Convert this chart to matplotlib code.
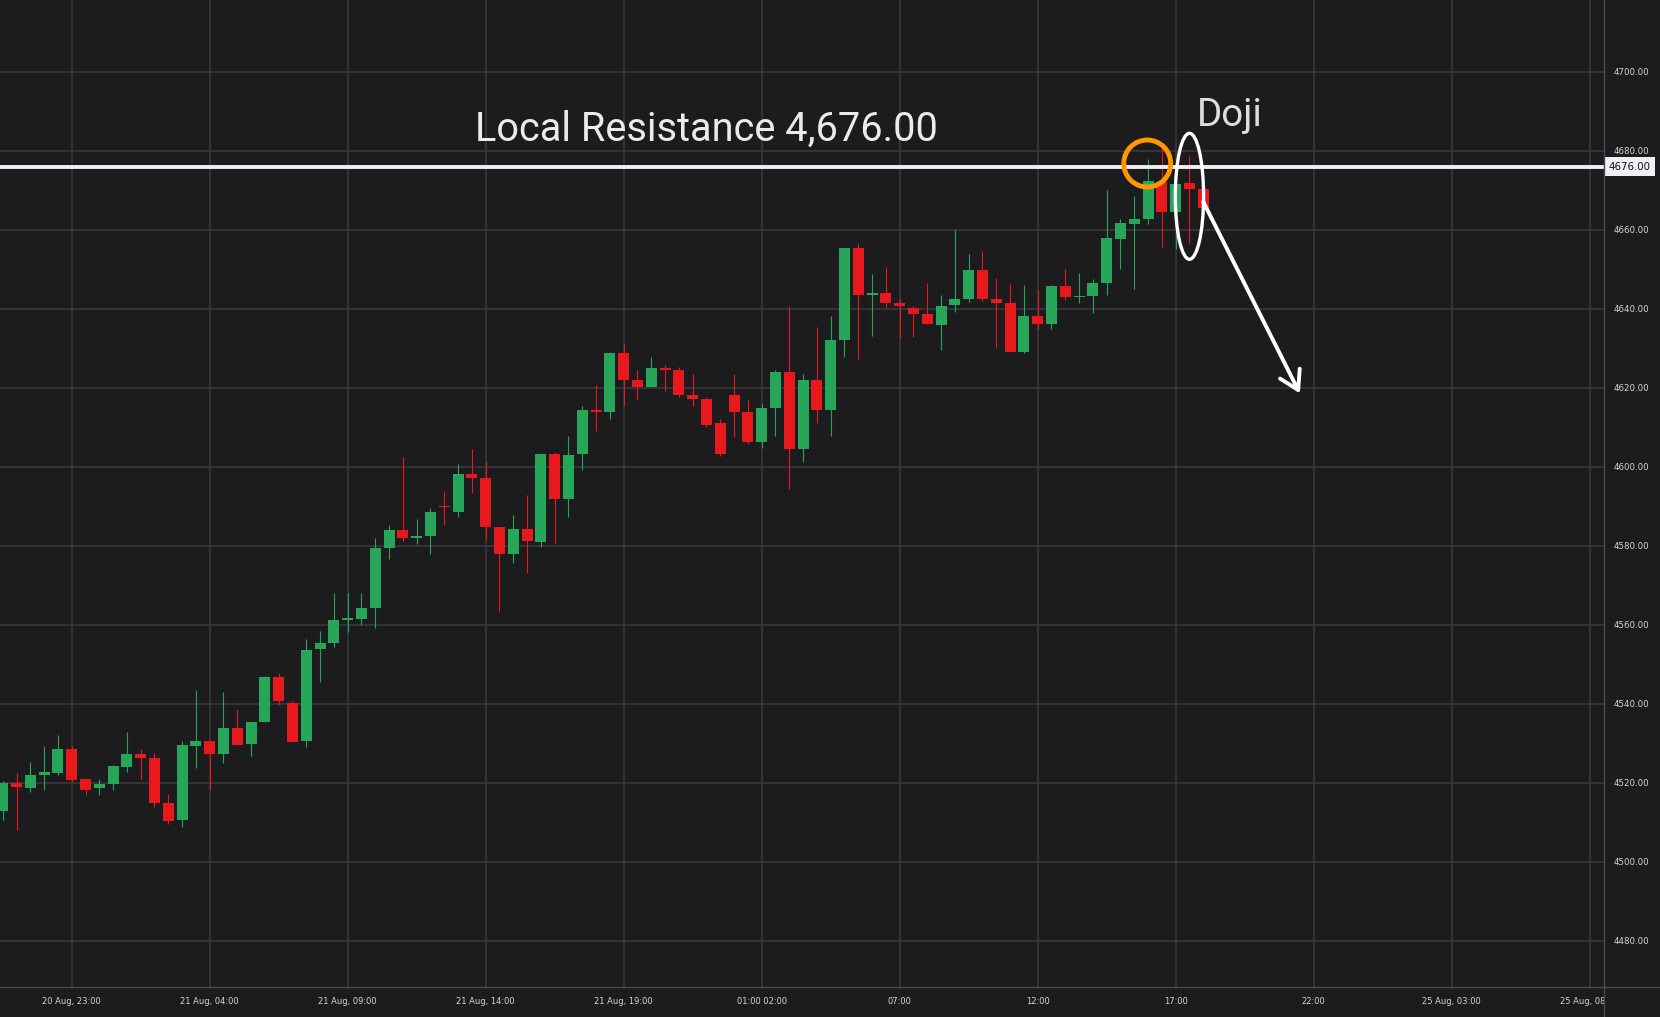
import matplotlib
matplotlib.use("Agg")
import matplotlib.pyplot as plt
from matplotlib.patches import Ellipse, Rectangle
from matplotlib.lines import Line2D
from matplotlib.transforms import blended_transform_factory

# 30 min candles, index 0 = 20 Aug 23:00
candle_idx = list(range(-5, 83))
opens = [4512.9, 4519.9, 4518.7, 4521.9, 4522.4, 4528.5, 4520.9, 4518.7, 4519.7, 4524.0,
         4527.2, 4526.2, 4514.9, 4510.6, 4529.2, 4530.5, 4527.2, 4533.8, 4529.7, 4535.3,
         4546.9, 4540.3, 4530.5, 4553.9, 4555.4, 4561.2, 4561.4, 4564.2, 4579.4, 4583.9,
         4582.1, 4582.4, 4590.2, 4588.5, 4598.3, 4597.1, 4584.7, 4577.9, 4584.2, 4580.9,
         4603.2, 4591.8, 4603.2, 4614.5, 4614.0, 4628.9, 4621.9, 4620.3, 4625.1, 4624.4,
         4618.1, 4617.1, 4611.0, 4618.3, 4614.0, 4606.2, 4615.0, 4624.1, 4604.6, 4621.9,
         4614.5, 4632.0, 4655.3, 4643.6, 4643.9, 4641.6, 4640.3, 4638.8, 4635.8, 4641.1,
         4642.6, 4649.9, 4642.6, 4641.6, 4629.2, 4638.1, 4636.1, 4645.8, 4643.0, 4643.2,
         4646.5, 4657.7, 4661.5, 4662.8, 4672.1, 4664.5, 4671.9, 4670.4]
highs = [4520.4, 4522.4, 4525.2, 4529.2, 4532.0, 4529.2, 4521.2, 4520.9, 4524.5, 4532.8,
         4528.5, 4527.5, 4517.1, 4530.5, 4543.6, 4530.5, 4542.9, 4538.6, 4535.5, 4547.1,
         4547.9, 4540.6, 4556.4, 4558.4, 4568.0, 4568.0, 4568.0, 4581.9, 4585.2, 4602.4,
         4586.9, 4589.5, 4594.0, 4600.8, 4604.6, 4601.6, 4584.7, 4587.7, 4592.8, 4603.4,
         4603.7, 4607.7, 4615.3, 4620.6, 4629.2, 4631.0, 4624.6, 4627.7, 4625.9, 4625.4,
         4623.6, 4617.8, 4612.0, 4623.4, 4617.3, 4616.0, 4624.6, 4640.8, 4623.4, 4635.3,
         4638.1, 4655.5, 4656.8, 4648.7, 4650.5, 4642.6, 4640.8, 4646.6, 4643.4, 4660.0,
         4653.9, 4654.7, 4647.9, 4646.4, 4646.1, 4644.9, 4646.0, 4650.1, 4649.1, 4647.5,
         4670.1, 4662.8, 4668.6, 4678.0, 4680.8, 4671.6, 4678.7, 4670.4]
lows = [4510.5, 4508.1, 4517.6, 4518.2, 4521.9, 4520.2, 4516.9, 4516.9, 4518.2, 4522.7,
        4520.9, 4513.9, 4509.6, 4508.8, 4523.7, 4518.2, 4525.0, 4529.5, 4526.7, 4535.3,
        4539.8, 4530.3, 4529.0, 4545.5, 4554.4, 4558.1, 4559.9, 4559.2, 4576.6, 4581.1,
        4580.4, 4577.9, 4585.4, 4587.2, 4593.3, 4581.7, 4563.6, 4575.6, 4573.1, 4579.7,
        4580.4, 4587.2, 4599.1, 4609.2, 4612.0, 4615.3, 4616.8, 4620.1, 4619.3, 4617.8,
        4615.5, 4610.2, 4602.7, 4607.5, 4605.9, 4604.7, 4607.7, 4594.3, 4601.1, 4611.0,
        4607.9, 4627.7, 4627.4, 4633.2, 4640.1, 4632.5, 4632.8, 4636.1, 4629.5, 4639.3,
        4641.8, 4642.1, 4630.0, 4629.2, 4628.7, 4634.8, 4635.0, 4642.2, 4641.5, 4638.9,
        4643.5, 4650.1, 4645.0, 4661.5, 4655.7, 4655.2, 4656.7, 4665.6]
closes = [4519.9, 4519.0, 4521.9, 4522.7, 4528.5, 4520.7, 4518.2, 4519.7, 4524.2, 4527.2,
          4526.2, 4514.9, 4510.3, 4529.5, 4530.5, 4527.2, 4533.8, 4529.5, 4535.3, 4546.9,
          4540.6, 4530.3, 4553.5, 4555.4, 4561.2, 4561.7, 4564.2, 4579.4, 4583.9, 4582.1,
          4582.4, 4588.5, 4589.8, 4598.3, 4597.1, 4584.8, 4577.9, 4584.2, 4581.2, 4603.2,
          4591.8, 4602.9, 4614.5, 4614.0, 4628.9, 4621.9, 4620.3, 4625.1, 4624.4, 4618.1,
          4617.1, 4610.7, 4603.2, 4614.0, 4606.2, 4615.0, 4624.1, 4604.6, 4621.9, 4614.5,
          4632.0, 4655.3, 4643.6, 4643.9, 4641.6, 4640.6, 4638.8, 4636.1, 4640.8, 4642.6,
          4649.9, 4642.6, 4641.6, 4629.2, 4638.1, 4636.1, 4645.8, 4643.0, 4643.2, 4646.5,
          4657.9, 4661.7, 4662.8, 4672.4, 4664.5, 4671.6, 4670.4, 4665.6]

tick_pos = [0, 10, 20, 30, 40, 50, 60, 70, 80, 90, 100, 110]
tick_labels = ["20 Aug, 23:00", "21 Aug, 04:00", "21 Aug, 09:00", "21 Aug, 14:00",
               "21 Aug, 19:00", "01:00 02:00", "07:00", "12:00", "17:00", "22:00",
               "25 Aug, 03:00", "25 Aug, 08:00"]
price_ticks = [4480, 4500, 4520, 4540, 4560, 4580, 4600, 4620, 4640, 4660, 4680, 4700]
resistance = 4676.00

BG = '#1c1c1e'
GRID = '#3b3b3d'
GREEN = '#27a65a'
RED = '#e8191d'
TXT = '#d6d6d6'

W, H = 1660, 1017
fig = plt.figure(figsize=(W / 100, H / 100), dpi=100, facecolor=BG)
ax = fig.add_axes([0, 30 / H, 1604 / W, 987 / H], facecolor=BG)

# candles
for i, o, h, l, c in zip(candle_idx, opens, highs, lows, closes):
    col = GREEN if c >= o else RED
    ax.vlines(i, l, h, color=col, lw=0.8, zorder=3)
    ax.bar(i, max(abs(c - o), 0.35), bottom=min(o, c), width=0.8, color=col,
           linewidth=0, zorder=4)

ax.set_xlim(-5.196, 111.04)
ax.set_ylim(4468.3, 4718.2)
ax.set_xticks(tick_pos)
ax.set_xticklabels(tick_labels)
ax.set_yticks(price_ticks)
ax.set_yticklabels([f"{p:.2f}" for p in price_ticks])
ax.yaxis.tick_right()
ax.tick_params(axis='x', length=0, pad=7.5, labelsize=6, labelcolor=TXT)
ax.tick_params(axis='y', length=0, pad=7.2, labelsize=6.2, labelcolor=TXT)
ax.grid(True, color=GRID, lw=1.1, zorder=0)
ax.set_axisbelow(True)
for s in ax.spines.values():
    s.set_visible(False)

# resistance line + price tag
ax.axhline(resistance, color='#f0f0f4', lw=2.8, zorder=5)
ax.text(1.0 + 4.5 / 1604, resistance, f"{resistance:.2f}",
        transform=blended_transform_factory(ax.transAxes, ax.transData),
        ha='left', va='center', fontsize=7.4, color='#111111', clip_on=False,
        bbox=dict(boxstyle='square,pad=0.42', fc='#f0f0f4', ec='none'))

# annotations
ax.text(45.97, 4682.46, "Local Resistance 4,676.00", family='Roboto', fontsize=28.6,
        color='#ebebeb', ha='center', va='baseline', zorder=7)
ax.text(83.93, 4686.3, "Doji", family='Roboto', fontsize=27.7,
        color='#dedede', ha='center', va='baseline', zorder=7)
ax.add_patch(Ellipse((77.94, 4676.8), 2 * 1.70, 2 * 5.95, fill=False,
                     ec='#ff9800', lw=3.5, zorder=6))
ax.add_patch(Ellipse((81.0, 4668.5), 2.05, 31.9, fill=False,
                     ec='white', lw=2.4, zorder=6))
ax.annotate('', xy=(89.0, 4618.6), xytext=(82.0, 4667.1),
            arrowprops=dict(arrowstyle='->,head_length=0.55,head_width=0.33',
                            color='white', lw=2.8, mutation_scale=24,
                            shrinkA=0, shrinkB=0), zorder=6)

# hide the overflow of the last time label, then the pane separators
fig.add_artist(Rectangle((1605 / W, 0), 55 / W, 29 / H, transform=fig.transFigure,
                         fc=BG, ec='none', zorder=5))
fig.add_artist(Line2D([1604 / W, 1604 / W], [0, 1], transform=fig.transFigure,
                      color='#4a4a4c', lw=1.0, zorder=6))
fig.add_artist(Line2D([0, 1], [30 / H, 30 / H], transform=fig.transFigure,
                      color='#4a4a4c', lw=1.0, zorder=6))

fig.savefig("out.png", dpi=100, facecolor=BG)
